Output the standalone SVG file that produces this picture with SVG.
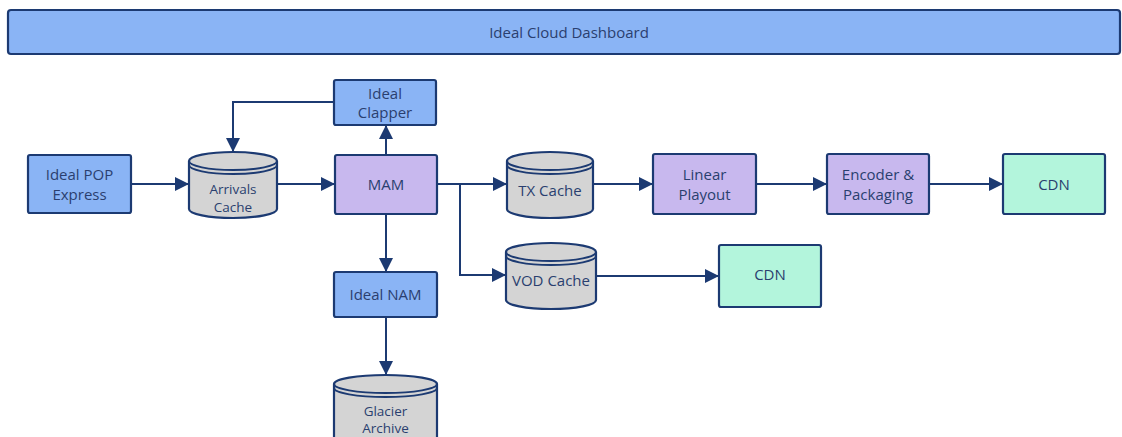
<svg xmlns="http://www.w3.org/2000/svg" width="1122" height="437" viewBox="0 0 1122 437">
<style>
.box{stroke:#1c3a72;stroke-width:2.2;stroke-linejoin:round}
.blue{fill:#8ab4f5}
.purple{fill:#c8b8ee}
.mint{fill:#b3f5dc}
.gray{fill:#d4d4d4}
.edge{fill:none;stroke:#1c3a72;stroke-width:2}
text{font-family:"Open Sans","Noto Sans",sans-serif;font-size:15px;fill:#2a3f6f;text-anchor:middle;dominant-baseline:central}
text.sm{font-size:13.5px}
</style>
<defs>
<marker id="arr" viewBox="0 0 14 14" refX="14" refY="7" markerWidth="14" markerHeight="14" markerUnits="userSpaceOnUse" orient="auto">
<path d="M0,0 L14,7 L0,14 Z" fill="#1c3a72"/>
</marker>
</defs>
<rect width="1122" height="437" fill="#ffffff"/>
<g id="dashboard">
<rect class="box blue" x="8" y="10" width="1112" height="44" rx="3"/>
<text x="569" y="32">Ideal Cloud Dashboard</text>
</g>
<g id="connectors">
<path class="edge" marker-end="url(#arr)" d="M131,184 H189"/>
<path class="edge" marker-end="url(#arr)" d="M277,184 H335"/>
<path class="edge" marker-end="url(#arr)" d="M386,155 V125"/>
<path class="edge" marker-end="url(#arr)" d="M334,102 H233 V152"/>
<path class="edge" marker-end="url(#arr)" d="M386,214 V272"/>
<path class="edge" marker-end="url(#arr)" d="M386,317 V375"/>
<path class="edge" marker-end="url(#arr)" d="M437,184 H507"/>
<path class="edge" marker-end="url(#arr)" d="M460,184 V275 H506"/>
<path class="edge" marker-end="url(#arr)" d="M593,184 H653"/>
<path class="edge" marker-end="url(#arr)" d="M756,184 H827"/>
<path class="edge" marker-end="url(#arr)" d="M929,184 H1003"/>
<path class="edge" marker-end="url(#arr)" d="M596,276 H719"/>
</g>
<g id="pop">
<rect class="box blue" x="28" y="155" width="103" height="58" rx="2"/>
<text x="79.5" y="174">Ideal POP</text>
<text x="79.5" y="194">Express</text>
</g>
<g id="arrivals">
<path class="box gray" d="M189,161 A44,9 0 0 1 277,161 V209 A44,9 0 0 1 189,209 Z"/>
<path class="edge" d="M189,161 A44,9 0 0 0 277,161"/>
<path class="edge" d="M189,165 A44,9 0 0 0 277,165"/>
<text class="sm" x="233" y="189">Arrivals</text>
<text class="sm" x="233" y="207">Cache</text>
</g>
<g id="mam">
<rect class="box purple" x="335" y="155" width="102" height="59" rx="2"/>
<text x="386" y="184">MAM</text>
</g>
<g id="clapper">
<rect class="box blue" x="334" y="80" width="102" height="45" rx="2"/>
<text x="385" y="93">Ideal</text>
<text x="385" y="112">Clapper</text>
</g>
<g id="nam">
<rect class="box blue" x="334" y="272" width="103" height="45" rx="2"/>
<text x="385.5" y="294">Ideal NAM</text>
</g>
<g id="glacier">
<path class="box gray" d="M334,384 A51.5,9 0 0 1 437,384 V445 H334 Z"/>
<path class="edge" d="M334,384 A51.5,9 0 0 0 437,384"/>
<path class="edge" d="M334,388 A51.5,9 0 0 0 437,388"/>
<text class="sm" x="385.5" y="411">Glacier</text>
<text class="sm" x="385.5" y="428">Archive</text>
</g>
<g id="txcache">
<path class="box gray" d="M507,161 A43,9 0 0 1 593,161 V209 A43,9 0 0 1 507,209 Z"/>
<path class="edge" d="M507,161 A43,9 0 0 0 593,161"/>
<path class="edge" d="M507,165 A43,9 0 0 0 593,165"/>
<text x="550" y="190">TX Cache</text>
</g>
<g id="linear">
<rect class="box purple" x="653" y="154" width="103" height="60" rx="2"/>
<text x="704.5" y="174">Linear</text>
<text x="704.5" y="194">Playout</text>
</g>
<g id="encoder">
<rect class="box purple" x="827" y="154" width="102" height="60" rx="2"/>
<text x="878" y="174">Encoder &amp;</text>
<text x="878" y="194">Packaging</text>
</g>
<g id="cdn1">
<rect class="box mint" x="1003" y="154" width="102" height="60" rx="2"/>
<text x="1054" y="184">CDN</text>
</g>
<g id="vodcache">
<path class="box gray" d="M506,252 A45,9 0 0 1 596,252 V300 A45,9 0 0 1 506,300 Z"/>
<path class="edge" d="M506,252 A45,9 0 0 0 596,252"/>
<path class="edge" d="M506,256 A45,9 0 0 0 596,256"/>
<text x="551" y="280">VOD Cache</text>
</g>
<g id="cdn2">
<rect class="box mint" x="719" y="245" width="102" height="62" rx="2"/>
<text x="770" y="274">CDN</text>
</g>
</svg>
